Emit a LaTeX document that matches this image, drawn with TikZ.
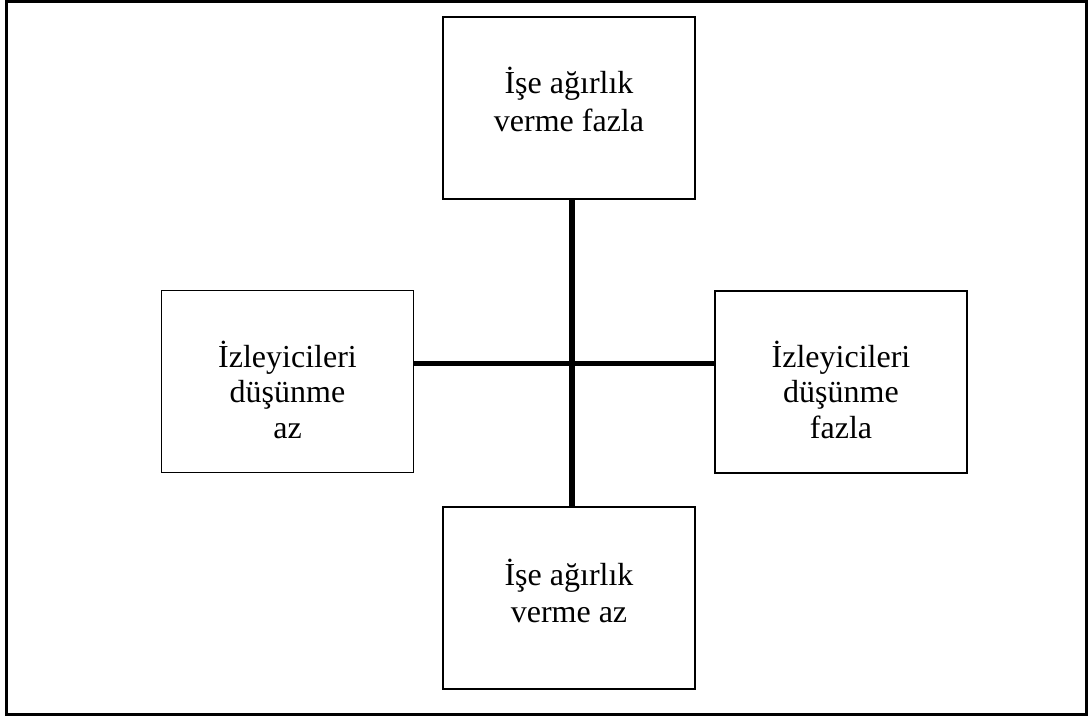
\documentclass[tikz,border=0pt]{standalone}
\usepackage{fontspec}
\setmainfont{Liberation Serif}
\newcommand\stackedlines[2]{{\fontsize{32}{#1}\selectfont\begin{tabular}[t]{@{}c@{}}#2\end{tabular}}}
\begin{document}
\begin{tikzpicture}[x=1pt,y=-1pt,
  quad/.style={draw, line width=1.5pt, minimum width=252pt, minimum height=182pt, inner sep=0pt},
  txt/.style={anchor=base, inner sep=0pt},
  axis/.style={line width=5.5pt}]
\useasboundingbox (0,0) rectangle (1089,716);
\draw[line width=3pt] (6.5,1.5) rectangle (1086.5,714);
\node[quad] (top) at (569,108) {};
\node[quad] (bot) at (569,598) {};
\node[quad] (left) at (287.5,381.5) {};
\node[quad] (right) at (841,382) {};
\node[txt] (ttop) at (569,93.5) {\stackedlines{38}{İşe ağırlık\\verme fazla}};
\node[txt] (tbot) at (569,585) {\stackedlines{37.5}{İşe ağırlık\\verme az}};
\node[txt] (tleft) at (287.5,367) {\stackedlines{35.5}{İzleyicileri\\düşünme\\az}};
\node[txt] (tright) at (841,367) {\stackedlines{35.5}{İzleyicileri\\düşünme\\fazla}};
\coordinate (c) at (572,363.5);
\draw[axis] (top.south -| c) -- (bot.north -| c);
\draw[axis] (left.east |- c) -- (right.west |- c);
\end{tikzpicture}
\end{document}
